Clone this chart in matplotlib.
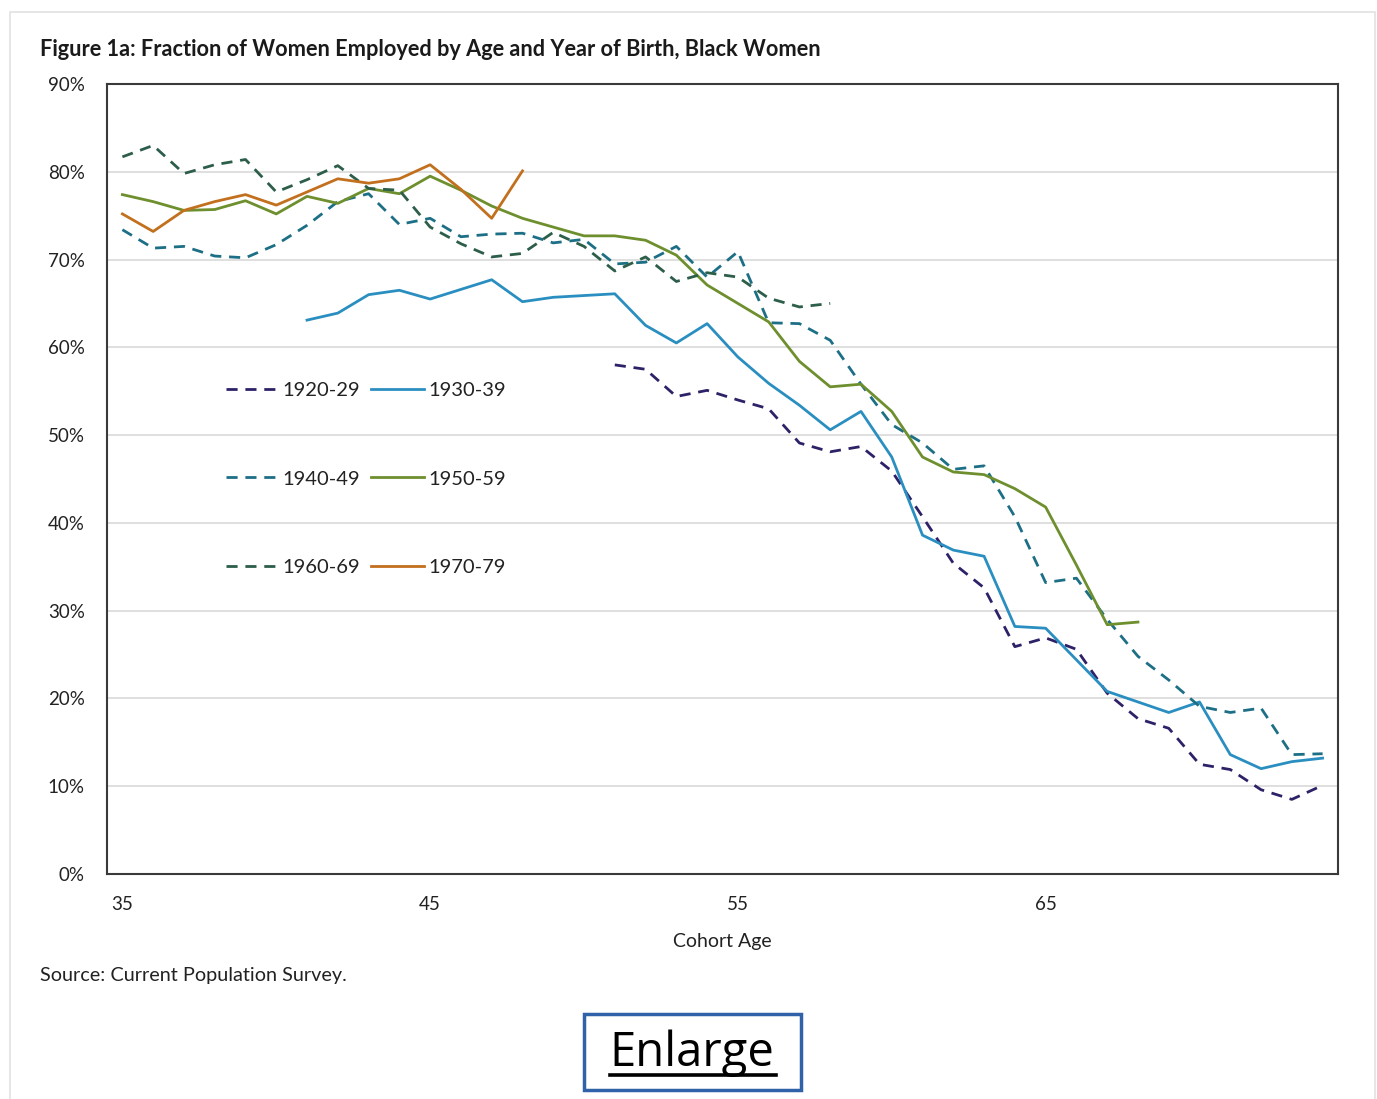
import matplotlib.pyplot as plt
from matplotlib.patches import Rectangle

plt.rcParams['font.family'] = ['Lato', 'DejaVu Sans']

# employment fraction (%) by cohort age, one series per birth decade
ages_1920 = list(range(51, 75))
emp_1920 = [58.0, 57.5, 54.4, 55.1, 54.0, 53.0, 49.1, 48.1, 48.7, 45.9, 40.7, 35.4,
            32.6, 25.9, 26.9, 25.6, 20.6, 17.7, 16.6, 12.5, 11.9, 9.6, 8.5, 10.1]

ages_1930 = list(range(41, 75))
emp_1930 = [63.1, 63.9, 66.0, 66.5, 65.5, 66.6, 67.7, 65.2, 65.7, 65.9, 66.1, 62.5,
            60.5, 62.7, 58.9, 55.9, 53.4, 50.6, 52.7, 47.5, 38.6, 36.9, 36.2, 28.2,
            28.0, 24.4, 20.8, 19.6, 18.4, 19.6, 13.6, 12.0, 12.8, 13.2]

ages_1940 = list(range(35, 75))
emp_1940 = [73.4, 71.3, 71.5, 70.4, 70.2, 71.7, 73.9, 76.6, 77.5, 74.0, 74.7, 72.6,
            72.9, 73.0, 71.9, 72.3, 69.5, 69.7, 71.5, 68.0, 70.9, 62.8, 62.7, 60.8,
            55.8, 51.2, 49.1, 46.1, 46.5, 40.7, 33.2, 33.7, 29.0, 24.8, 22.1, 19.1,
            18.4, 18.9, 13.6, 13.7]

ages_1950 = list(range(35, 69))
emp_1950 = [77.4, 76.6, 75.6, 75.7, 76.7, 75.2, 77.2, 76.4, 78.1, 77.5, 79.5, 77.9,
            76.1, 74.7, 73.7, 72.7, 72.7, 72.2, 70.5, 67.1, 65.0, 62.9, 58.4, 55.5,
            55.8, 52.7, 47.5, 45.8, 45.5, 43.9, 41.8, 35.2, 28.4, 28.7]

ages_1960 = list(range(35, 59))
emp_1960 = [81.7, 83.0, 79.8, 80.8, 81.4, 77.7, 79.1, 80.7, 78.1, 77.9, 73.7, 71.8,
            70.3, 70.7, 73.1, 71.5, 68.7, 70.3, 67.5, 68.5, 68.0, 65.6, 64.6, 65.0]

ages_1970 = list(range(35, 49))
emp_1970 = [75.2, 73.2, 75.6, 76.6, 77.4, 76.2, 77.7, 79.2, 78.7, 79.2, 80.8, 78.0,
            74.7, 80.1]

x_ticks = [35, 45, 55, 65]
y_ticks = list(range(0, 91, 10))

fig = plt.figure(figsize=(13.77, 10.99), dpi=100)
fig.patch.set_facecolor('white')

# light card outline around the whole figure
fig.patches.append(Rectangle((10 / 1377, -0.01), 1365 / 1377, 1 - 12 / 1099 + 0.01,
                             transform=fig.transFigure, fill=False,
                             edgecolor='#e2e2e2', linewidth=1.2))

ax = fig.add_axes([107 / 1377, 1 - 874 / 1099, 1231 / 1377, 790 / 1099])

lw = 2.0
dash = (4, 2.8)
l20, = ax.plot(ages_1920, emp_1920, color='#2e2168', lw=lw, dashes=dash, label='1920-29')
l30, = ax.plot(ages_1930, emp_1930, color='#2a8fc0', lw=lw, label='1930-39')
l40, = ax.plot(ages_1940, emp_1940, color='#1d6f86', lw=lw, dashes=dash, label='1940-49')
l50, = ax.plot(ages_1950, emp_1950, color='#6e8f2e', lw=lw, label='1950-59')
l60, = ax.plot(ages_1960, emp_1960, color='#2c5e4a', lw=lw, dashes=dash, label='1960-69')
l70, = ax.plot(ages_1970, emp_1970, color='#c2701d', lw=lw, label='1970-79')

ax.set_xlim(34.5, 74.5)
ax.set_ylim(0, 90)
ax.set_xticks(x_ticks)
ax.set_xticklabels([str(a) for a in x_ticks])
ax.set_yticks(y_ticks)
ax.set_yticklabels([f'{v}%' for v in y_ticks])
ax.tick_params(length=0, labelsize=13.5, colors='#222222')
ax.tick_params(axis='x', pad=16)
ax.tick_params(axis='y', pad=16)
ax.grid(axis='y', color='#d9d9d9', linewidth=1.2)
ax.set_axisbelow(True)
for sp in ax.spines.values():
    sp.set_color('#3a3a3a')
    sp.set_linewidth(1.5)

ax.set_xlabel('Cohort Age', fontsize=14, color='#222222', labelpad=14)

leg = ax.legend(handles=[l20, l40, l60, l30, l50, l70], ncol=2,
                loc='upper left', bbox_to_anchor=(0.097, 0.623),
                frameon=False, fontsize=14.5, handlelength=2.6,
                handletextpad=0.2, columnspacing=0.55, labelspacing=3.55,
                borderpad=0, borderaxespad=0)
for t in leg.get_texts():
    t.set_color('#222222')

fig.text(40 / 1377, 1 - 50 / 1099,
         'Figure 1a: Fraction of Women Employed by Age and Year of Birth, Black Women',
         fontsize=15.7, fontweight='bold', color='#1a1a1a', va='center', ha='left')
fig.text(40 / 1377, 1 - 975 / 1099, 'Source: Current Population Survey.',
         fontsize=14.3, color='#222222', va='center', ha='left')

# "Enlarge" button under the chart
fig.patches.append(Rectangle((584 / 1377, 1 - 1090 / 1099), 217 / 1377, 76 / 1099,
                             transform=fig.transFigure, fill=False,
                             edgecolor='#2f62a8', linewidth=2.5))
fig.text(692 / 1377, 1 - 1053 / 1099, 'Enlarge', fontsize=34, color='black',
         va='center', ha='center', family=['Open Sans', 'DejaVu Sans'])
fig.add_artist(plt.Line2D([610 / 1377, 776 / 1377], [1 - 1075 / 1099, 1 - 1075 / 1099],
                          transform=fig.transFigure, color='black', linewidth=2.6))

fig.savefig('out.png', dpi=100, facecolor='white')
